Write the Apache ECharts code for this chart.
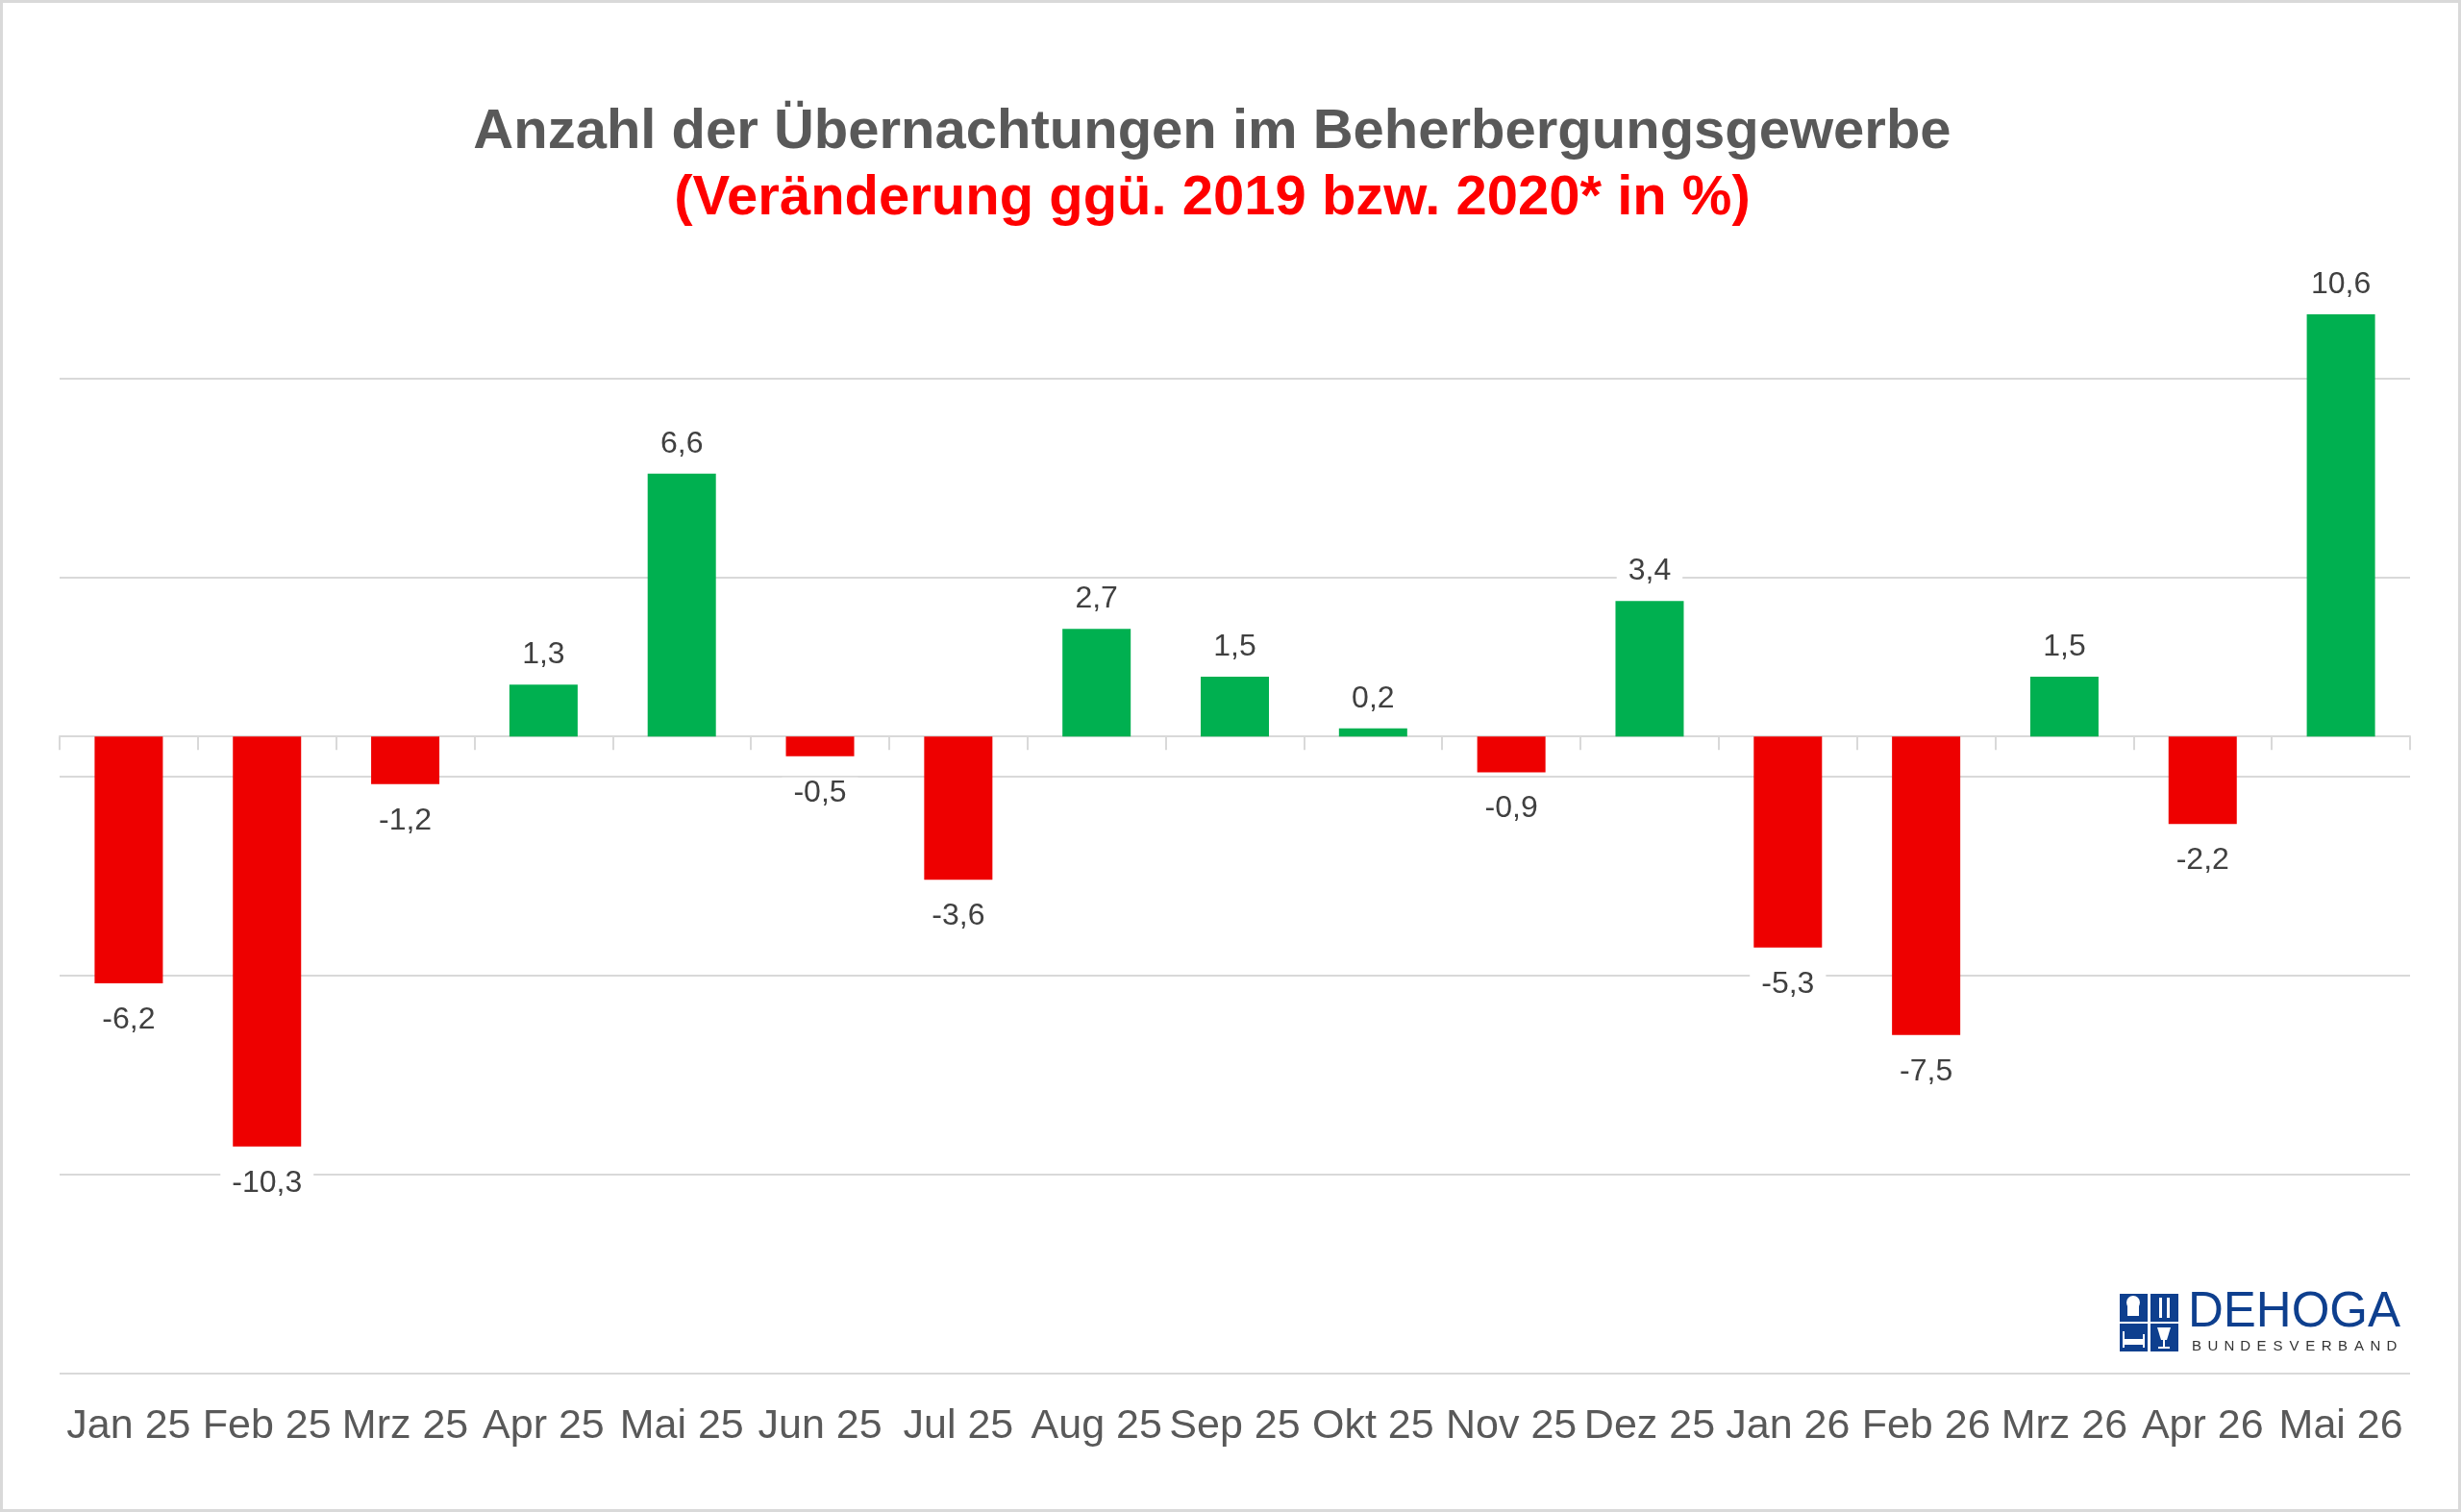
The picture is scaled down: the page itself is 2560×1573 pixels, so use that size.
<!DOCTYPE html>
<html>
<head>
<meta charset="utf-8">
<script src="https://cdn.jsdelivr.net/npm/echarts@6/dist/echarts.min.js"></script>
<style>
  html, body { margin: 0; padding: 0; background: #fff; }
  #chart { width: 2560px; height: 1573px; }
</style>
</head>
<body>
<div id="chart"></div>
<script>
// data
var months = ['Jan 25', 'Feb 25', 'Mrz 25', 'Apr 25', 'Mai 25', 'Jun 25', 'Jul 25', 'Aug 25', 'Sep 25',
    'Okt 25', 'Nov 25', 'Dez 25', 'Jan 26', 'Feb 26', 'Mrz 26', 'Apr 26', 'Mai 26'];
var changes = [-6.2, -10.3, -1.2, 1.3, 6.6, -0.5, -3.6, 2.7, 1.5, 0.2, -0.9, 3.4, -5.3, -7.5, 1.5, -2.2, 10.6];

// value axis: gridlines start at -16 and come every 5
var axisMin = -16;
var axisMax = 12;
var gridStep = 5;

var titleText = 'Anzahl der Übernachtungen im Beherbergungsgewerbe';
var subText = '(Veränderung ggü. 2019 bzw. 2020* in %)';

var font = "'Liberation Sans', Arial, sans-serif";
var green = '#00B050';
var red = '#EE0000';
var gridColor = '#D9D9D9';
var logoBlue = '#0E3F8E';

var barData = changes.map(function (v) {
    return {
        value: v,
        itemStyle: { color: v >= 0 ? green : red },
        label: { position: v >= 0 ? 'top' : 'bottom', distance: v >= 0 ? 15 : 22 }
    };
});

// logo: four blue tiles with simple white pictograms, then the word mark
var logo = [];
[[2205, 1346], [2237, 1346], [2205, 1377], [2237, 1377]].forEach(function (p) {
    logo.push({ type: 'rect', shape: { x: p[0], y: p[1], width: 29, height: 29 }, style: { fill: logoBlue } });
});
var white = { fill: '#fff' };
logo.push(
    { type: 'circle', shape: { cx: 2219, cy: 1355, r: 7 }, style: white },
    { type: 'rect', shape: { x: 2213, y: 1356, width: 12, height: 13 }, style: white },
    { type: 'rect', shape: { x: 2246, y: 1350, width: 3, height: 21 }, style: white },
    { type: 'rect', shape: { x: 2254, y: 1350, width: 3, height: 21 }, style: white },
    { type: 'rect', shape: { x: 2208, y: 1393, width: 23, height: 6 }, style: white },
    { type: 'rect', shape: { x: 2208, y: 1385, width: 2, height: 17 }, style: white },
    { type: 'rect', shape: { x: 2229, y: 1388, width: 2, height: 14 }, style: white },
    { type: 'polygon', shape: { points: [[2244, 1381], [2258, 1381], [2254, 1394], [2248, 1394]] }, style: white },
    { type: 'rect', shape: { x: 2250, y: 1394, width: 2, height: 7 }, style: white },
    { type: 'rect', shape: { x: 2245, y: 1401, width: 12, height: 2 }, style: white }
);
logo.push({
    type: 'text', x: 2276, y: 1366,
    style: { text: 'DEHOGA', font: '51px ' + font, fill: logoBlue, verticalAlign: 'middle', align: 'left' }
});
'BUNDESVERBAND'.split('').forEach(function (ch, i) {
    logo.push({
        type: 'text', x: 2285 + i * 16.9, y: 1401,
        style: { text: ch, font: '15px ' + font, fill: '#333', verticalAlign: 'middle', align: 'center' }
    });
});

var chart = echarts.init(document.getElementById('chart'));
chart.setOption({
    backgroundColor: '#fff',
    animation: false,
    grid: { left: 62, right: 53, top: 269, bottom: 144 },
    graphic: [
        {
            type: 'rect', shape: { x: 1.5, y: 1.5, width: 2557, height: 1570 },
            style: { fill: 'none', stroke: gridColor, lineWidth: 3 }
        },
        {
            type: 'text', x: 1261, y: 138,
            style: { text: titleText, font: 'bold 58px ' + font, fill: '#595959', align: 'center', verticalAlign: 'middle' }
        },
        {
            type: 'text', x: 1261, y: 207,
            style: { text: subText, font: 'bold 58px ' + font, fill: '#FF0000', align: 'center', verticalAlign: 'middle' }
        }
    ].concat(logo),
    xAxis: [
        {
            type: 'category',
            data: months,
            axisLine: { onZero: true, onZeroAxisIndex: 0, lineStyle: { color: gridColor, width: 2 } },
            axisTick: { show: true, length: 14, lineStyle: { color: gridColor, width: 2 } },
            axisLabel: { show: false }
        },
        {
            type: 'category',
            data: months,
            position: 'bottom',
            axisLine: { show: false, onZero: false },
            axisTick: { show: false },
            axisLabel: {
                interval: 0, margin: 55, verticalAlign: 'middle',
                fontFamily: font, fontSize: 43, color: '#595959'
            }
        }
    ],
    yAxis: [
        {
            type: 'value', min: axisMin, max: axisMax,
            axisLabel: { show: false }, axisLine: { show: false }, axisTick: { show: false },
            splitLine: { show: false }
        },
        {
            // same span as the value axis, shifted so its ticks land on -16, -11, -6, ...
            type: 'value', min: 0, max: axisMax - axisMin, interval: gridStep,
            position: 'left',
            axisLabel: { show: false }, axisLine: { show: false }, axisTick: { show: false },
            splitLine: { show: true, showMaxLine: false, lineStyle: { color: gridColor, width: 2 } }
        }
    ],
    series: [
        {
            type: 'bar',
            xAxisIndex: 0,
            yAxisIndex: 0,
            barWidth: 71,
            data: barData,
            label: {
                show: true,
                fontFamily: font,
                fontSize: 32,
                color: '#404040',
                backgroundColor: '#fff',
                padding: [0, 12],
                formatter: function (p) {
                    return String(p.value).replace('.', ',');
                }
            }
        }
    ]
});
</script>
</body>
</html>
